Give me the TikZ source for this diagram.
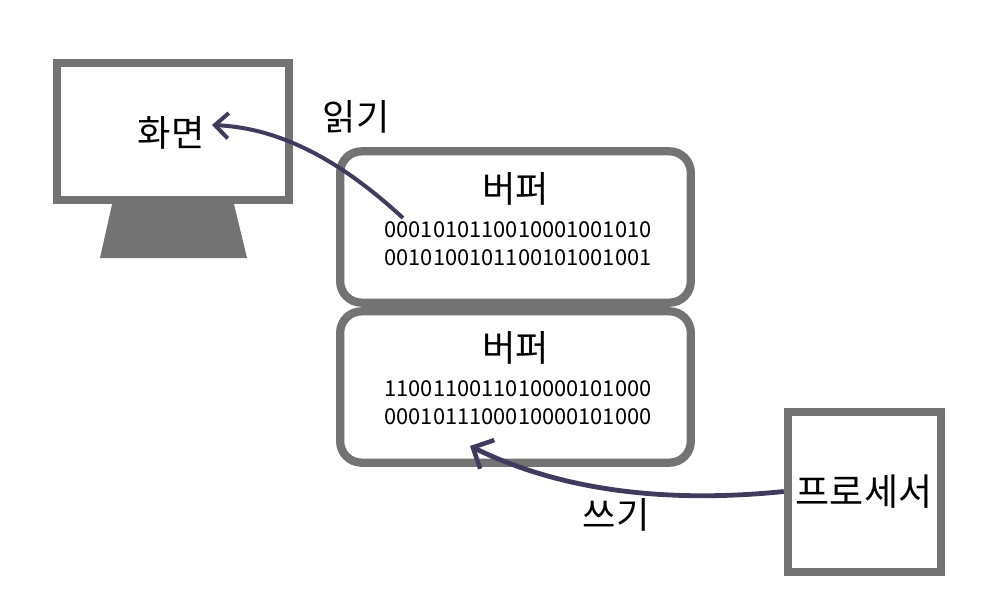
\documentclass[tikz,border=0pt]{standalone}
\usepackage{fontspec}
\setmainfont{Noto Sans CJK KR}
\usetikzlibrary{arrows.meta}
\definecolor{frame}{HTML}{737373}
\definecolor{arrowc}{HTML}{3F3B5C}
\tikzset{
  x=0.75pt,y=-0.75pt,
  boxframe/.style={draw=frame,line width=6pt,fill=white,inner sep=0pt,minimum width=#1},
  bufferbox/.style={draw=frame,line width=6.2pt,fill=white,rounded corners=16pt,inner sep=0pt,minimum width=263pt,minimum height=113.5pt},
  big/.style={font=\fontsize{27.2}{32}\selectfont,inner sep=0pt},
  bits/.style={font=\fontsize{16.4}{21}\selectfont,inner sep=0pt,align=center},
  readflow/.style={draw=arrowc,line width=3pt,-{Straight Barb[length=10pt,width=19pt,line width=3pt]}},
  writeflow/.style={draw=arrowc,line width=3.6pt,-{Straight Barb[length=12pt,width=24pt,line width=3.4pt]}}
}
\begin{document}
\begin{tikzpicture}
\useasboundingbox (0,0) rectangle (1000,600);
\fill[frame] (113,200) -- (233,200) -- (247,258) -- (100,258) -- cycle;
\node[boxframe=174pt,minimum height=103pt] (screen) at (173,131.5) {};
\node[bufferbox] (buf1) at (515.5,227) {};
\node[bufferbox] (buf2) at (515.5,387) {};
\node[boxframe=115pt,minimum height=120pt] (cpu) at (864.5,491.5) {};
\node[big] (screenlabel) at (171,133) {화면};
\node[big] (readlabel) at (356,117) {읽기};
\node[big] (title1) at (515.5,188.5) {버퍼};
\node[big] (title2) at (515.5,347.5) {버퍼};
\node[bits] (bits1) at (518,243.5) {0001010110010001001010\\0010100101100101001001};
\node[bits] (bits2) at (518,402.5) {1100110011010000101000\\0001011100010000101000};
\node[big,font=\fontsize{27.8}{34}\selectfont] (cpulabel) at (864,492) {프로세서};
\node[big] (writelabel) at (616,515) {쓰기};
\coordinate (readend) at (212,125);
\coordinate (readstart) at (403,218);
\coordinate (writeend) at (470,446);
\draw[readflow] (readstart) .. controls (340,160) and (280,128) .. (readend);
\draw[writeflow] (cpu.west) .. controls (680,502) and (570,495) .. (writeend);
\end{tikzpicture}
\end{document}
